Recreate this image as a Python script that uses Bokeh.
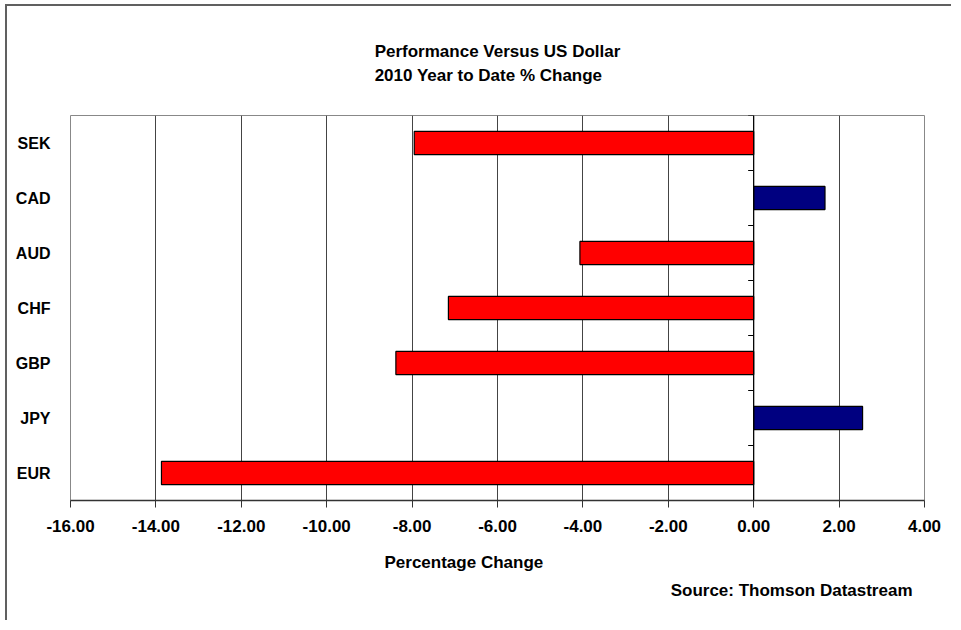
from bokeh.plotting import figure
from bokeh.models import Span, FactorRange, NumeralTickFormatter, FixedTicker, Range1d, Title
from bokeh.embed import file_html
from bokeh.resources import INLINE

currencies = ["EUR", "JPY", "GBP", "CHF", "AUD", "CAD", "SEK"]
changes = [-13.87, 2.55, -8.38, -7.15, -4.07, 1.67, -7.95]
x_ticks = [-16, -14, -12, -10, -8, -6, -4, -2, 0, 2, 4]
title_1 = "Performance Versus US Dollar"
title_2 = "2010 Year to Date % Change"
x_label = "Percentage Change"
source = "Source: Thomson Datastream"

FONT = "Liberation Sans"
colors = ["#FF0000" if v < 0 else "#000080" for v in changes]

W, H = 946, 616
p = figure(width=W, height=H, output_backend="svg", toolbar_location=None,
           y_range=FactorRange(factors=currencies, range_padding=0),
           x_range=Range1d(-16, 4),
           min_border_left=63, min_border_top=109, min_border_right=29, min_border_bottom=122)
p.styles = {"position": "relative", "left": "5px", "top": "4px",
            "border-left": "2px solid #606060", "border-top": "2px solid #606060"}
p.outline_line_color = "#888888"
p.outline_line_width = 1

p.hbar(y=currencies, right=changes, left=0, height=0.42, fill_color=colors,
       line_color="black", line_width=1.2)

# zero axis line and category boundary ticks
p.add_layout(Span(location=0, dimension="height", line_color="black", line_width=1.2))
bounds = [(c, -0.5) for c in currencies] + [(currencies[-1], 0.5)]
p.segment(x0=[-0.13] * len(bounds), x1=[0] * len(bounds), y0=bounds, y1=bounds,
          line_color="black", line_width=1.2)

p.xaxis.ticker = FixedTicker(ticks=x_ticks)
p.xaxis.formatter = NumeralTickFormatter(format="0.00")
p.xaxis.axis_line_color = "#333333"
p.xaxis.axis_line_width = 1.5
p.xaxis.major_tick_out = 7
p.xaxis.major_tick_in = 0
p.xaxis.major_tick_line_color = "#333333"
p.xaxis.minor_tick_line_color = None
p.xaxis.major_label_standoff = 12
p.xaxis.major_label_text_font = FONT
p.xaxis.major_label_text_font_style = "bold"
p.xaxis.major_label_text_font_size = "17px"
p.xaxis.major_label_text_color = "black"

p.yaxis.axis_line_color = None
p.yaxis.major_tick_line_color = None
p.yaxis.minor_tick_line_color = None
p.yaxis.major_label_standoff = 14
p.yaxis.major_label_text_font = FONT
p.yaxis.major_label_text_font_style = "bold"
p.yaxis.major_label_text_font_size = "16px"
p.yaxis.major_label_text_color = "black"

p.xgrid.grid_line_color = "#444444"
p.xgrid.grid_line_width = 1
p.ygrid.grid_line_color = None

def make_title(txt, align="center", offset=0, standoff=10, line_height=1.2):
    try:
        return Title(text=txt, align=align, offset=offset, standoff=standoff,
                     text_font=FONT, text_font_style="bold", text_font_size="17px",
                     text_color="black", text_line_height=line_height)
    except Exception:
        return Title(text=txt, align=align, offset=offset, standoff=max(standoff, 0),
                     text_font=FONT, text_font_style="bold", text_font_size="17px",
                     text_color="black", text_line_height=line_height)

p.add_layout(make_title(title_1 + "\n" + title_2, standoff=60, line_height=1.3), "above")
p.add_layout(make_title(x_label, align="left", offset=314, standoff=33), "below")
p.add_layout(make_title(source, align="right", offset=12, standoff=-22), "below")

open("out.html", "w").write(file_html(p, INLINE))
